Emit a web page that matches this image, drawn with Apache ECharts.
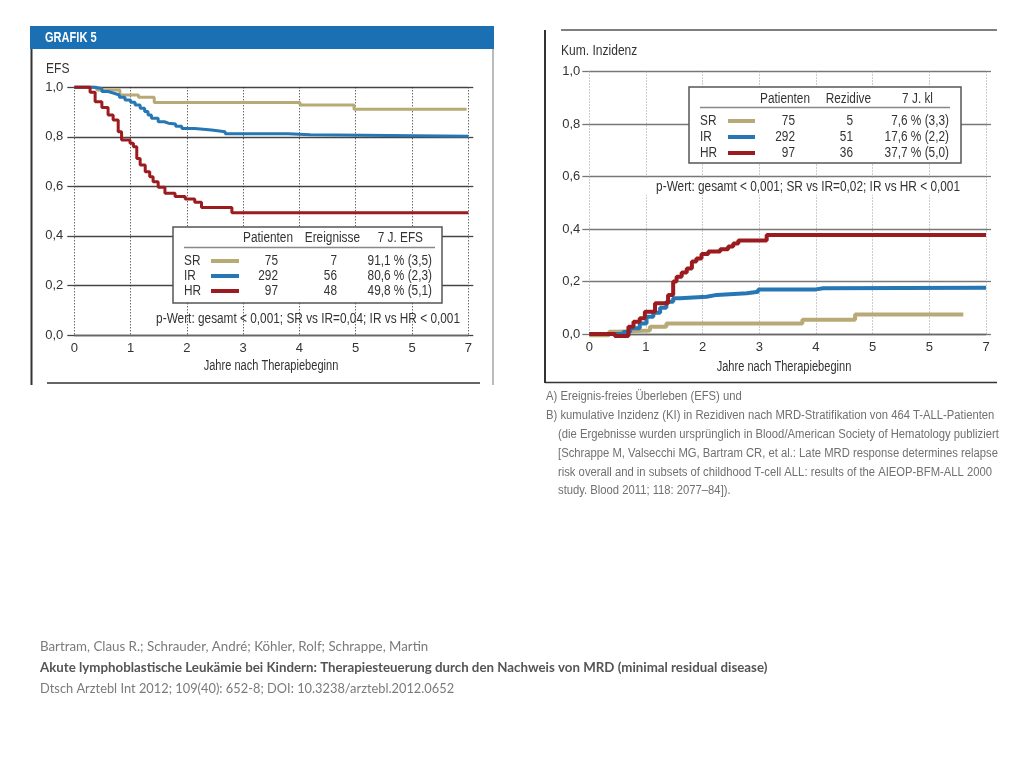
<!DOCTYPE html>
<html><head><meta charset="utf-8">
<script src="https://cdn.jsdelivr.net/npm/echarts@6/dist/echarts.min.js"></script>
<style>html,body{margin:0;padding:0;background:#fff}#c{width:1024px;height:768px}</style>
</head><body><div id="c"></div>
<script>
// ---------- DATA ----------
const groups = ['SR', 'IR', 'HR'];
const xTickLabels = ['0', '1', '2', '3', '4', '5', '5', '7'];

// Panel A: EFS (Kaplan-Meier steps: [years, EFS])
const efsSR = [[0,1],[0.4,0.989],[0.81,0.969],[1.14,0.960],[1.42,0.939],[4.01,0.929],[4.97,0.911],[6.97,0.911]];
const efsIR = [[0,1],[0.35,0.995],[0.49,0.983],[0.6,0.975],[0.72,0.969],[0.8,0.96],[0.9,0.949],[1.0,0.94],[1.08,0.929],[1.17,0.915],[1.25,0.902],[1.31,0.888],[1.37,0.875],[1.49,0.861],[1.6,0.855],[1.67,0.852],[1.8,0.843],[1.91,0.834],[2.14,0.828],[2.44,0.821],[2.68,0.812],[3.8,0.808],[4.19,0.802],[7,0.802]];
const efsHR = [[0,1],[0.28,0.98],[0.37,0.942],[0.49,0.918],[0.6,0.888],[0.69,0.868],[0.78,0.821],[0.84,0.787],[0.99,0.774],[1.05,0.760],[1.11,0.713],[1.17,0.686],[1.26,0.659],[1.34,0.639],[1.4,0.619],[1.49,0.596],[1.61,0.572],[1.79,0.559],[1.97,0.549],[2.14,0.536],[2.26,0.515],[2.8,0.494],[7,0.494]];

// Panel B: cumulative incidence of relapse ([years, KI])
const kiSR = [[0,-0.005],[0.35,0.009],[0.5,0.013],[1.07,0.028],[1.36,0.04],[3.76,0.054],[4.69,0.074],[6.6,0.074]];
const kiIR = [[0,0],[0.6,0.008],[0.72,0.022],[0.89,0.04],[1.01,0.066],[1.13,0.081],[1.25,0.1],[1.36,0.123],[1.48,0.136],[1.6,0.142],[2.07,0.149],[2.25,0.155],[2.78,0.161],[2.98,0.17],[4.0,0.174],[4.13,0.176],[7,0.176]];
const kiHR = [[0,0],[0.45,-0.008],[0.69,0.028],[0.78,0.047],[0.89,0.06],[0.98,0.085],[1.16,0.117],[1.39,0.149],[1.48,0.2],[1.54,0.218],[1.63,0.234],[1.72,0.25],[1.81,0.276],[1.89,0.288],[1.98,0.305],[2.1,0.314],[2.31,0.323],[2.45,0.333],[2.54,0.345],[2.63,0.356],[3.13,0.377],[7,0.377]];

// Legend tables
const patients = ['75', '292', '97'];
const events = ['7', '56', '48'];
const efs7 = ['91,1 % (3,5)', '80,6 % (2,3)', '49,8 % (5,1)'];
const relapses = ['5', '51', '36'];
const ki7 = ['7,6 % (3,3)', '17,6 % (2,2)', '37,7 % (5,0)'];
const headersA = ['Patienten', 'Ereignisse', '7 J. EFS'];
const headersB = ['Patienten', 'Rezidive', '7 J. kl'];
const pValueA = 'p-Wert: gesamt < 0,001; SR vs IR=0,04; IR vs HR < 0,001';
const pValueB = 'p-Wert: gesamt < 0,001; SR vs IR=0,02; IR vs HR < 0,001';
const xTitle = 'Jahre nach Therapiebeginn';

const captionLines = [
  'A) Ereignis-freies Überleben (EFS) und',
  'B) kumulative Inzidenz (KI) in Rezidiven nach MRD-Stratifikation von 464 T-ALL-Patienten',
  '(die Ergebnisse wurden ursprünglich in Blood/American Society of Hematology publiziert',
  '[Schrappe M, Valsecchi MG, Bartram CR, et al.: Late MRD response determines relapse',
  'risk overall and in subsets of childhood T-cell ALL: results of the AIEOP-BFM-ALL 2000',
  'study. Blood 2011; 118: 2077–84]).'
];
const citation = [
  'Bartram, Claus R.; Schrauder, André; Köhler, Rolf; Schrappe, Martin',
  'Akute lymphoblastische Leukämie bei Kindern: Therapiesteuerung durch den Nachweis von MRD (minimal residual disease)',
  'Dtsch Arztebl Int 2012; 109(40): 652-8; DOI: 10.3238/arztebl.2012.0652'
];

// ---------- STYLE ----------
const FONT = "'Liberation Sans',Arial,sans-serif";
const CFONT = "Lato,'Open Sans',sans-serif";
const colors = ['#b8aa76', '#2777b5', '#9b1b1f'];
const TXT = '#333';
const NARROW = 0.845;

const chart = echarts.init(document.getElementById('c'));

function xAx(gi, dotColor, margin) {
  return {
    type: 'value', gridIndex: gi, min: 0, max: 7, interval: 1,
    axisLine: {show: true, lineStyle: {color: '#666', width: 1.3}},
    axisTick: {show: false},
    axisLabel: {margin: margin, fontFamily: FONT, fontSize: 13, color: TXT,
      formatter: v => xTickLabels[Math.round(v)]},
    splitLine: {show: true, lineStyle: {color: dotColor, type: [1, 2], width: 1}}
  };
}
function yAx(gi, lineColor, margin) {
  return {
    type: 'value', gridIndex: gi, min: 0, max: 1, interval: 0.2, position: 'left',
    axisLine: {show: false},
    axisTick: {show: true, length: 7, lineStyle: {color: lineColor, width: 1.3}},
    axisLabel: {margin: margin, fontFamily: FONT, fontSize: 13, color: TXT,
      formatter: v => v.toFixed(1).replace('.', ',')},
    splitLine: {show: true, lineStyle: {color: lineColor, width: 1.3}}
  };
}
function yAxR(gi, lineColor) {
  return {
    type: 'value', gridIndex: gi, min: 0, max: 1, interval: 0.2, position: 'right',
    axisLine: {show: false},
    axisTick: {show: true, length: 5, lineStyle: {color: lineColor, width: 1.3}},
    axisLabel: {show: false}, splitLine: {show: false}
  };
}
function ser(name, data, ci, gi, w) {
  return {type: 'line', name: name, data: data, step: 'end', xAxisIndex: gi, yAxisIndex: gi * 2,
    symbol: 'none', clip: false, silent: true, animation: false,
    lineStyle: {color: colors[ci], width: w}};
}

// ---------- GRAPHIC (frames, legend tables, captions) ----------
const g = [];
function txt(x, y, s, opt, sx) {
  g.push({type: 'text', z: 100, x: x, y: y, scaleX: sx == null ? NARROW : sx,
    style: Object.assign({x: 0, y: 0, text: s, fill: TXT,
    font: '14px ' + FONT, align: 'left', verticalAlign: 'middle'}, opt || {})});
}
function line(x1, y1, x2, y2, color, w) {
  g.push({type: 'line', z: 100, shape: {x1, y1, x2, y2}, style: {stroke: color, lineWidth: w}});
}
function rect(x, y, w, h, fill, stroke, lw) {
  g.push({type: 'rect', z: 99, shape: {x, y, width: w, height: h},
    style: {fill: fill, stroke: stroke || null, lineWidth: lw || 0}});
}

// Panel A frame
rect(30, 26, 464, 23, '#1b6fb3');
txt(45, 38, 'GRAFIK 5', {fill: '#fff', font: 'bold 14px ' + FONT}, 0.79);
line(31.5, 49, 31.5, 385, '#333', 2);
line(493, 49, 493, 385, '#777', 1);
line(47, 383, 480, 383, '#333', 1.5);
txt(46, 69, 'EFS', null, 0.86);
txt(271, 366, xTitle, {align: 'center'}, 0.79);

// Panel A legend table
rect(173, 227, 269, 76, '#fff', '#555', 1.5);
const hxA = [293, 360, 423];
headersA.forEach((h, i) => txt(hxA[i], 238.5, h, {align: 'right'}));
line(184, 247.5, 435, 247.5, '#888', 1.5);
groups.forEach((gname, i) => {
  const y = 261 + i * 15;
  txt(184, y, gname);
  line(211, y, 239, y, colors[i], 4);
  txt(278, y, patients[i], {align: 'right'});
  txt(337, y, events[i], {align: 'right'});
  txt(432, y, efs7[i], {align: 'right'});
});
txt(460, 319, pValueA, {align: 'right'});

// Panel B frame
line(561, 30, 997, 30, '#555', 1.5);
line(545, 30, 545, 383, '#333', 2);
line(545, 382.5, 997, 382.5, '#333', 1.5);
txt(561, 51, 'Kum. Inzidenz', null, 0.86);
txt(784, 367, xTitle, {align: 'center'}, 0.79);

// Panel B legend table
rect(689, 87, 272, 76, '#fff', '#555', 1.5);
const hxB = [810, 871, 933];
headersB.forEach((h, i) => txt(hxB[i], 99, h, {align: 'right'}));
line(700, 107.5, 950, 107.5, '#888', 1.5);
groups.forEach((gname, i) => {
  const y = 121 + i * 16;
  txt(700, y, gname);
  line(728, y, 755, y, colors[i], 4);
  txt(795, y, patients[i], {align: 'right'});
  txt(853, y, relapses[i], {align: 'right'});
  txt(949, y, ki7[i], {align: 'right'});
});
rect(643, 179, 324, 16, '#fff');
txt(960, 187, pValueB, {align: 'right'});

// Caption
captionLines.forEach((s, i) => {
  txt(i < 2 ? 546 : 558, 397 + i * 18.8, s, {fill: '#707070', font: '12.5px ' + FONT}, 0.9);
});
// Citation
const citeScale = [1, 1, 0.965];
citation.forEach((s, i) => {
  txt(40, 647 + i * 21, s, {fill: i === 1 ? '#555' : '#7a7a7a',
    font: (i === 1 ? 'bold ' : '') + '13.3px ' + CFONT}, citeScale[i]);
});

chart.setOption({
  animation: false,
  backgroundColor: '#fff',
  grid: [
    {left: 74.3, top: 87.3, width: 394, height: 247.7, containLabel: false},
    {left: 589.3, top: 71.5, width: 396.7, height: 262.5, containLabel: false}
  ],
  xAxis: [xAx(0, '#222', 7), xAx(1, '#999', 7)],
  yAxis: [yAx(0, '#444', 11), yAxR(0, '#444'), yAx(1, '#777', 9), yAxR(1, '#777')],
  series: [
    ser('SR', efsSR, 0, 0, 3), ser('IR', efsIR, 1, 0, 3), ser('HR', efsHR, 2, 0, 3),
    ser('SR', kiSR, 0, 1, 4), ser('IR', kiIR, 1, 1, 4), ser('HR', kiHR, 2, 1, 4)
  ],
  graphic: {elements: g}
});
</script>
</body></html>
